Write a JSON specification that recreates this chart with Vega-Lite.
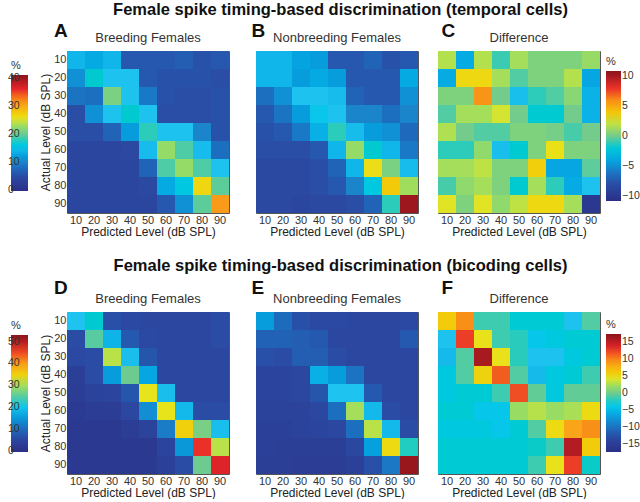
{
"$schema":"https://vega.github.io/schema/vega-lite/v6.json",
"padding":{"left":11,"top":2,"right":0,"bottom":0},
"config":{
 "font":"Liberation Sans",
 "view":{"stroke":"#555","strokeWidth":1},
 "axis":{"labelFont":"Liberation Sans","labelFontSize":11,"labelColor":"#333","titleFont":"Liberation Sans","titleFontSize":12,"titleFontWeight":"normal","titleColor":"#222","ticks":false,"domain":false,"labelPadding":1,"titlePadding":1,"labelAngle":0},
 "title":{"font":"Liberation Sans"},
 "legend":{"labelFont":"Liberation Sans","titleFont":"Liberation Sans","labelFontSize":10.5,"labelColor":"#333","titleFontSize":11,"titleFontWeight":"normal","titleColor":"#333","padding":0,"gradientStrokeWidth":0,"labelExpr":"replace(datum.label,'\u2212','-')"}
},
"datasets":{
"A":[
{"a":10,"p":10,"v":14},{"a":10,"p":20,"v":13},{"a":10,"p":30,"v":14},{"a":10,"p":40,"v":6},{"a":10,"p":50,"v":6},{"a":10,"p":60,"v":6},{"a":10,"p":70,"v":6.5},{"a":10,"p":80,"v":5.5},{"a":10,"p":90,"v":6},
{"a":20,"p":10,"v":11},{"a":20,"p":20,"v":17},{"a":20,"p":30,"v":15},{"a":20,"p":40,"v":15},{"a":20,"p":50,"v":6},{"a":20,"p":60,"v":5.5},{"a":20,"p":70,"v":5.5},{"a":20,"p":80,"v":5.5},{"a":20,"p":90,"v":5},
{"a":30,"p":10,"v":8.5},{"a":30,"p":20,"v":8},{"a":30,"p":30,"v":21},{"a":30,"p":40,"v":15},{"a":30,"p":50,"v":9},{"a":30,"p":60,"v":5.5},{"a":30,"p":70,"v":5},{"a":30,"p":80,"v":5},{"a":30,"p":90,"v":5.5},
{"a":40,"p":10,"v":5},{"a":40,"p":20,"v":11},{"a":40,"p":30,"v":15},{"a":40,"p":40,"v":17},{"a":40,"p":50,"v":15},{"a":40,"p":60,"v":5},{"a":40,"p":70,"v":5},{"a":40,"p":80,"v":5},{"a":40,"p":90,"v":5.5},
{"a":50,"p":10,"v":5},{"a":50,"p":20,"v":5},{"a":50,"p":30,"v":7},{"a":50,"p":40,"v":12},{"a":50,"p":50,"v":18},{"a":50,"p":60,"v":15},{"a":50,"p":70,"v":15},{"a":50,"p":80,"v":10},{"a":50,"p":90,"v":5.5},
{"a":60,"p":10,"v":4},{"a":60,"p":20,"v":4},{"a":60,"p":30,"v":4},{"a":60,"p":40,"v":4.5},{"a":60,"p":50,"v":14.5},{"a":60,"p":60,"v":22.5},{"a":60,"p":70,"v":19},{"a":60,"p":80,"v":14.5},{"a":60,"p":90,"v":8},
{"a":70,"p":10,"v":4},{"a":70,"p":20,"v":4},{"a":70,"p":30,"v":4},{"a":70,"p":40,"v":4},{"a":70,"p":50,"v":7},{"a":70,"p":60,"v":19},{"a":70,"p":70,"v":22.5},{"a":70,"p":80,"v":19},{"a":70,"p":90,"v":15},
{"a":80,"p":10,"v":4},{"a":80,"p":20,"v":4},{"a":80,"p":30,"v":4},{"a":80,"p":40,"v":4},{"a":80,"p":50,"v":4.5},{"a":80,"p":60,"v":13},{"a":80,"p":70,"v":16},{"a":80,"p":80,"v":26.5},{"a":80,"p":90,"v":19.5},
{"a":90,"p":10,"v":4},{"a":90,"p":20,"v":4},{"a":90,"p":30,"v":4},{"a":90,"p":40,"v":4},{"a":90,"p":50,"v":4},{"a":90,"p":60,"v":6},{"a":90,"p":70,"v":11},{"a":90,"p":80,"v":19.5},{"a":90,"p":90,"v":31}
],
"B":[
{"a":10,"p":10,"v":14},{"a":10,"p":20,"v":14},{"a":10,"p":30,"v":12.5},{"a":10,"p":40,"v":12},{"a":10,"p":50,"v":6},{"a":10,"p":60,"v":6},{"a":10,"p":70,"v":7},{"a":10,"p":80,"v":5.5},{"a":10,"p":90,"v":6},
{"a":20,"p":10,"v":14},{"a":20,"p":20,"v":14},{"a":20,"p":30,"v":12},{"a":20,"p":40,"v":13},{"a":20,"p":50,"v":12},{"a":20,"p":60,"v":6},{"a":20,"p":70,"v":6},{"a":20,"p":80,"v":6},{"a":20,"p":90,"v":13},
{"a":30,"p":10,"v":8},{"a":30,"p":20,"v":11},{"a":30,"p":30,"v":15},{"a":30,"p":40,"v":15},{"a":30,"p":50,"v":14.5},{"a":30,"p":60,"v":7},{"a":30,"p":70,"v":6},{"a":30,"p":80,"v":6},{"a":30,"p":90,"v":11},
{"a":40,"p":10,"v":6},{"a":40,"p":20,"v":8.5},{"a":40,"p":30,"v":12},{"a":40,"p":40,"v":15.5},{"a":40,"p":50,"v":15},{"a":40,"p":60,"v":10},{"a":40,"p":70,"v":10},{"a":40,"p":80,"v":8},{"a":40,"p":90,"v":10},
{"a":50,"p":10,"v":5.5},{"a":50,"p":20,"v":6},{"a":50,"p":30,"v":9},{"a":50,"p":40,"v":13.5},{"a":50,"p":50,"v":18},{"a":50,"p":60,"v":14.5},{"a":50,"p":70,"v":12},{"a":50,"p":80,"v":11},{"a":50,"p":90,"v":7.5},
{"a":60,"p":10,"v":5},{"a":60,"p":20,"v":5},{"a":60,"p":30,"v":5},{"a":60,"p":40,"v":6},{"a":60,"p":50,"v":14},{"a":60,"p":60,"v":22.5},{"a":60,"p":70,"v":17},{"a":60,"p":80,"v":14},{"a":60,"p":90,"v":9},
{"a":70,"p":10,"v":4.5},{"a":70,"p":20,"v":4.5},{"a":70,"p":30,"v":4.5},{"a":70,"p":40,"v":5},{"a":70,"p":50,"v":7},{"a":70,"p":60,"v":14},{"a":70,"p":70,"v":26},{"a":70,"p":80,"v":21},{"a":70,"p":90,"v":14.5},
{"a":80,"p":10,"v":4.5},{"a":80,"p":20,"v":4.5},{"a":80,"p":30,"v":4.5},{"a":80,"p":40,"v":5},{"a":80,"p":50,"v":6},{"a":80,"p":60,"v":10},{"a":80,"p":70,"v":16},{"a":80,"p":80,"v":27.5},{"a":80,"p":90,"v":23},
{"a":90,"p":10,"v":4.5},{"a":90,"p":20,"v":4.5},{"a":90,"p":30,"v":4},{"a":90,"p":40,"v":4.5},{"a":90,"p":50,"v":4.5},{"a":90,"p":60,"v":5},{"a":90,"p":70,"v":7},{"a":90,"p":80,"v":18},{"a":90,"p":90,"v":40}
],
"C":[
{"a":10,"p":10,"v":1.8},{"a":10,"p":20,"v":-3.8},{"a":10,"p":30,"v":1.8},{"a":10,"p":40,"v":-1},{"a":10,"p":50,"v":1.5},{"a":10,"p":60,"v":0.5},{"a":10,"p":70,"v":0.5},{"a":10,"p":80,"v":0.5},{"a":10,"p":90,"v":1.2},
{"a":20,"p":10,"v":-3.8},{"a":20,"p":20,"v":3.2},{"a":20,"p":30,"v":3.2},{"a":20,"p":40,"v":1.5},{"a":20,"p":50,"v":-0.6},{"a":20,"p":60,"v":0.5},{"a":20,"p":70,"v":0.5},{"a":20,"p":80,"v":1.8},{"a":20,"p":90,"v":-4},
{"a":30,"p":10,"v":0.5},{"a":30,"p":20,"v":0.5},{"a":30,"p":30,"v":5.8},{"a":30,"p":40,"v":0},{"a":30,"p":50,"v":-3},{"a":30,"p":60,"v":-1.2},{"a":30,"p":70,"v":-0.6},{"a":30,"p":80,"v":0.8},{"a":30,"p":90,"v":-3.5},
{"a":40,"p":10,"v":-0.6},{"a":40,"p":20,"v":1.5},{"a":40,"p":30,"v":1.5},{"a":40,"p":40,"v":2.4},{"a":40,"p":50,"v":0},{"a":40,"p":60,"v":-1.8},{"a":40,"p":70,"v":-1.8},{"a":40,"p":80,"v":0},{"a":40,"p":90,"v":-3.5},
{"a":50,"p":10,"v":1.7},{"a":50,"p":20,"v":0},{"a":50,"p":30,"v":-0.6},{"a":50,"p":40,"v":-0.6},{"a":50,"p":50,"v":0.5},{"a":50,"p":60,"v":0.5},{"a":50,"p":70,"v":0.2},{"a":50,"p":80,"v":-0.8},{"a":50,"p":90,"v":0},
{"a":60,"p":10,"v":-1.2},{"a":60,"p":20,"v":-1.2},{"a":60,"p":30,"v":1},{"a":60,"p":40,"v":-3},{"a":60,"p":50,"v":-1.8},{"a":60,"p":60,"v":0.5},{"a":60,"p":70,"v":2.9},{"a":60,"p":80,"v":0.5},{"a":60,"p":90,"v":0.5},
{"a":70,"p":10,"v":1.5},{"a":70,"p":20,"v":1.5},{"a":70,"p":30,"v":2},{"a":70,"p":40,"v":0.5},{"a":70,"p":50,"v":0.5},{"a":70,"p":60,"v":3.6},{"a":70,"p":70,"v":-4},{"a":70,"p":80,"v":-4},{"a":70,"p":90,"v":-0.4},
{"a":80,"p":10,"v":-0.8},{"a":80,"p":20,"v":1},{"a":80,"p":30,"v":1.5},{"a":80,"p":40,"v":0.5},{"a":80,"p":50,"v":-1.8},{"a":80,"p":60,"v":1.5},{"a":80,"p":70,"v":-1.2},{"a":80,"p":80,"v":-3.8},{"a":80,"p":90,"v":-2.8},
{"a":90,"p":10,"v":2.6},{"a":90,"p":20,"v":0.5},{"a":90,"p":30,"v":2.6},{"a":90,"p":40,"v":1},{"a":90,"p":50,"v":2},{"a":90,"p":60,"v":3.2},{"a":90,"p":70,"v":3.2},{"a":90,"p":80,"v":1.5},{"a":90,"p":90,"v":-10}
],
"D":[
{"a":10,"p":10,"v":19.5},{"a":10,"p":20,"v":22},{"a":10,"p":30,"v":7},{"a":10,"p":40,"v":6},{"a":10,"p":50,"v":5.5},{"a":10,"p":60,"v":5.5},{"a":10,"p":70,"v":5.5},{"a":10,"p":80,"v":5.5},{"a":10,"p":90,"v":6.5},
{"a":20,"p":10,"v":6.5},{"a":20,"p":20,"v":25},{"a":20,"p":30,"v":18},{"a":20,"p":40,"v":8},{"a":20,"p":50,"v":6},{"a":20,"p":60,"v":5.5},{"a":20,"p":70,"v":5.5},{"a":20,"p":80,"v":5.5},{"a":20,"p":90,"v":6.5},
{"a":30,"p":10,"v":6},{"a":30,"p":20,"v":6.5},{"a":30,"p":30,"v":31},{"a":30,"p":40,"v":19},{"a":30,"p":50,"v":7.5},{"a":30,"p":60,"v":5.5},{"a":30,"p":70,"v":5.5},{"a":30,"p":80,"v":5.5},{"a":30,"p":90,"v":5.5},
{"a":40,"p":10,"v":3.5},{"a":40,"p":20,"v":6.5},{"a":40,"p":30,"v":15.5},{"a":40,"p":40,"v":26},{"a":40,"p":50,"v":16.5},{"a":40,"p":60,"v":5.5},{"a":40,"p":70,"v":5.5},{"a":40,"p":80,"v":5.5},{"a":40,"p":90,"v":5.5},
{"a":50,"p":10,"v":3},{"a":50,"p":20,"v":4.5},{"a":50,"p":30,"v":5},{"a":50,"p":40,"v":7.5},{"a":50,"p":50,"v":33},{"a":50,"p":60,"v":19},{"a":50,"p":70,"v":5.5},{"a":50,"p":80,"v":5.5},{"a":50,"p":90,"v":5.5},
{"a":60,"p":10,"v":2.5},{"a":60,"p":20,"v":3},{"a":60,"p":30,"v":3},{"a":60,"p":40,"v":5.5},{"a":60,"p":50,"v":14},{"a":60,"p":60,"v":33},{"a":60,"p":70,"v":18.5},{"a":60,"p":80,"v":6.5},{"a":60,"p":90,"v":6.5},
{"a":70,"p":10,"v":2},{"a":70,"p":20,"v":2},{"a":70,"p":30,"v":2},{"a":70,"p":40,"v":3},{"a":70,"p":50,"v":4.5},{"a":70,"p":60,"v":12},{"a":70,"p":70,"v":35},{"a":70,"p":80,"v":27},{"a":70,"p":90,"v":19},
{"a":80,"p":10,"v":2},{"a":80,"p":20,"v":2},{"a":80,"p":30,"v":2},{"a":80,"p":40,"v":2},{"a":80,"p":50,"v":2},{"a":80,"p":60,"v":5},{"a":80,"p":70,"v":15},{"a":80,"p":80,"v":46},{"a":80,"p":90,"v":31},
{"a":90,"p":10,"v":2},{"a":90,"p":20,"v":2},{"a":90,"p":30,"v":2},{"a":90,"p":40,"v":2},{"a":90,"p":50,"v":2},{"a":90,"p":60,"v":4},{"a":90,"p":70,"v":6.5},{"a":90,"p":80,"v":26},{"a":90,"p":90,"v":47}
],
"E":[
{"a":10,"p":10,"v":15.5},{"a":10,"p":20,"v":10},{"a":10,"p":30,"v":7},{"a":10,"p":40,"v":6},{"a":10,"p":50,"v":6},{"a":10,"p":60,"v":5.5},{"a":10,"p":70,"v":5.5},{"a":10,"p":80,"v":5.5},{"a":10,"p":90,"v":6},
{"a":20,"p":10,"v":9},{"a":20,"p":20,"v":9},{"a":20,"p":30,"v":8.5},{"a":20,"p":40,"v":8},{"a":20,"p":50,"v":5.5},{"a":20,"p":60,"v":5.5},{"a":20,"p":70,"v":5.5},{"a":20,"p":80,"v":5.5},{"a":20,"p":90,"v":8},
{"a":30,"p":10,"v":7},{"a":30,"p":20,"v":6.5},{"a":30,"p":30,"v":8.5},{"a":30,"p":40,"v":8.5},{"a":30,"p":50,"v":6.5},{"a":30,"p":60,"v":5.5},{"a":30,"p":70,"v":5.5},{"a":30,"p":80,"v":5.5},{"a":30,"p":90,"v":5.5},
{"a":40,"p":10,"v":5},{"a":40,"p":20,"v":5},{"a":40,"p":30,"v":5.5},{"a":40,"p":40,"v":17.5},{"a":40,"p":50,"v":15.5},{"a":40,"p":60,"v":11},{"a":40,"p":70,"v":5.5},{"a":40,"p":80,"v":5.5},{"a":40,"p":90,"v":5.5},
{"a":50,"p":10,"v":5},{"a":50,"p":20,"v":5},{"a":50,"p":30,"v":5.5},{"a":50,"p":40,"v":7.5},{"a":50,"p":50,"v":19.5},{"a":50,"p":60,"v":19.5},{"a":50,"p":70,"v":8},{"a":50,"p":80,"v":5.5},{"a":50,"p":90,"v":5.5},
{"a":60,"p":10,"v":4.5},{"a":60,"p":20,"v":4.5},{"a":60,"p":30,"v":4.5},{"a":60,"p":40,"v":5.5},{"a":60,"p":50,"v":10.5},{"a":60,"p":60,"v":30},{"a":60,"p":70,"v":18.5},{"a":60,"p":80,"v":6.5},{"a":60,"p":90,"v":5.5},
{"a":70,"p":10,"v":4},{"a":70,"p":20,"v":4},{"a":70,"p":30,"v":4.5},{"a":70,"p":40,"v":5},{"a":70,"p":50,"v":5.5},{"a":70,"p":60,"v":10.5},{"a":70,"p":70,"v":31},{"a":70,"p":80,"v":18.5},{"a":70,"p":90,"v":6.5},
{"a":80,"p":10,"v":4},{"a":80,"p":20,"v":3.5},{"a":80,"p":30,"v":3.5},{"a":80,"p":40,"v":3.5},{"a":80,"p":50,"v":3.5},{"a":80,"p":60,"v":5.5},{"a":80,"p":70,"v":16},{"a":80,"p":80,"v":34},{"a":80,"p":90,"v":23},
{"a":90,"p":10,"v":3.5},{"a":90,"p":20,"v":3.5},{"a":90,"p":30,"v":3},{"a":90,"p":40,"v":3},{"a":90,"p":50,"v":3},{"a":90,"p":60,"v":4},{"a":90,"p":70,"v":7},{"a":90,"p":80,"v":11.5},{"a":90,"p":90,"v":52}
],
"F":[
{"a":10,"p":10,"v":6},{"a":10,"p":20,"v":9.5},{"a":10,"p":30,"v":-1.5},{"a":10,"p":40,"v":-1.5},{"a":10,"p":50,"v":-3},{"a":10,"p":60,"v":-3},{"a":10,"p":70,"v":-3},{"a":10,"p":80,"v":-4.5},{"a":10,"p":90,"v":-1},
{"a":20,"p":10,"v":-4.5},{"a":20,"p":20,"v":12.5},{"a":20,"p":30,"v":4.5},{"a":20,"p":40,"v":-1.5},{"a":20,"p":50,"v":-2},{"a":20,"p":60,"v":-4},{"a":20,"p":70,"v":-3.5},{"a":20,"p":80,"v":-3},{"a":20,"p":90,"v":-3},
{"a":30,"p":10,"v":-5},{"a":30,"p":20,"v":-1},{"a":30,"p":30,"v":16},{"a":30,"p":40,"v":4.5},{"a":30,"p":50,"v":-2},{"a":30,"p":60,"v":-4.5},{"a":30,"p":70,"v":-4.5},{"a":30,"p":80,"v":-3.5},{"a":30,"p":90,"v":-3},
{"a":40,"p":10,"v":-3.5},{"a":40,"p":20,"v":-1},{"a":40,"p":30,"v":5.5},{"a":40,"p":40,"v":11.5},{"a":40,"p":50,"v":-1},{"a":40,"p":60,"v":-5},{"a":40,"p":70,"v":-3.5},{"a":40,"p":80,"v":-3},{"a":40,"p":90,"v":-1.5},
{"a":50,"p":10,"v":-3.5},{"a":50,"p":20,"v":-3},{"a":50,"p":30,"v":-3},{"a":50,"p":40,"v":-1.5},{"a":50,"p":50,"v":12},{"a":50,"p":60,"v":-0.5},{"a":50,"p":70,"v":-3.5},{"a":50,"p":80,"v":-0.5},{"a":50,"p":90,"v":-0.5},
{"a":60,"p":10,"v":-3},{"a":60,"p":20,"v":-3},{"a":60,"p":30,"v":-4},{"a":60,"p":40,"v":-4},{"a":60,"p":50,"v":2},{"a":60,"p":60,"v":3},{"a":60,"p":70,"v":2},{"a":60,"p":80,"v":2.5},{"a":60,"p":90,"v":5},
{"a":70,"p":10,"v":-3.5},{"a":70,"p":20,"v":-3.5},{"a":70,"p":30,"v":-3.5},{"a":70,"p":40,"v":-4},{"a":70,"p":50,"v":-3},{"a":70,"p":60,"v":-1},{"a":70,"p":70,"v":5},{"a":70,"p":80,"v":8.5},{"a":70,"p":90,"v":9.5},
{"a":80,"p":10,"v":-3},{"a":80,"p":20,"v":-3},{"a":80,"p":30,"v":-3},{"a":80,"p":40,"v":-3},{"a":80,"p":50,"v":-3},{"a":80,"p":60,"v":-2.5},{"a":80,"p":70,"v":-1.5},{"a":80,"p":80,"v":15.5},{"a":80,"p":90,"v":6},
{"a":90,"p":10,"v":-3},{"a":90,"p":20,"v":-3},{"a":90,"p":30,"v":-3},{"a":90,"p":40,"v":-3},{"a":90,"p":50,"v":-3},{"a":90,"p":60,"v":-1.5},{"a":90,"p":70,"v":4.5},{"a":90,"p":80,"v":12.5},{"a":90,"p":90,"v":-2.5}
]
},
"resolve":{"scale":{"color":"independent"},"legend":{"color":"independent"}},
"spacing":20,
"vconcat":[
{
 "title":{"text":"Female spike timing-based discrimination (temporal cells)","anchor":"middle","fontSize":16.5,"fontWeight":"bold","color":"#111","offset":3,"dx":15},
 "resolve":{"scale":{"color":"independent"},"legend":{"color":"independent"}},
 "spacing":21,
 "hconcat":[
  {"title":{"text":"A","anchor":"start","fontSize":19,"fontWeight":"bold","color":"#111","dx":43,"dy":9,"offset":0},
   "hconcat":[{
    "width":162,"height":162,
    "title":{"text":"Breeding Females","fontSize":13,"fontWeight":"normal","color":"#333","offset":6},
    "data":{"name":"A"},"mark":"rect",
    "encoding":{
     "x":{"field":"p","type":"ordinal","title":"Predicted Level (dB SPL)","scale":{"paddingInner":0,"paddingOuter":0}},
     "y":{"field":"a","type":"ordinal","title":"Actual Level (dB SPL)","scale":{"paddingInner":0,"paddingOuter":0}},
     "color":{"field":"v","type":"quantitative","scale":{"domain":[-0.4,41],"range":["#2b2f86","#2b4aa3","#1b84cc","#20c4ef","#73cb8c","#e8e41c","#f9a11b","#e8262a","#8a151b"]},
      "legend":{"orient":"none","legendX":-56,"legendY":9,"direction":"vertical","gradientLength":116,"gradientThickness":17,"title":"%","titlePadding":4,"labelAlign":"right","labelOffset":-20,"values":[0,10,20,30,40]}}
    }
   }]},
  {"resolve":{"scale":{"color":"independent"},"legend":{"color":"independent"}},
   "spacing":18,
   "hconcat":[
   {"title":{"text":"B","anchor":"start","fontSize":19,"fontWeight":"bold","color":"#111","dx":-4,"dy":9,"offset":0},
    "hconcat":[{
     "width":162,"height":162,
     "title":{"text":"Nonbreeding Females","fontSize":13,"fontWeight":"normal","color":"#333","offset":6},
     "data":{"name":"B"},"mark":"rect",
     "encoding":{
      "x":{"field":"p","type":"ordinal","title":"Predicted Level (dB SPL)","scale":{"paddingInner":0,"paddingOuter":0}},
      "y":{"field":"a","type":"ordinal","axis":null,"scale":{"paddingInner":0,"paddingOuter":0}},
      "color":{"field":"v","type":"quantitative","scale":{"domain":[-0.4,41],"range":["#2b2f86","#2b4aa3","#1b84cc","#20c4ef","#73cb8c","#e8e41c","#f9a11b","#e8262a","#8a151b"]},"legend":null}
     }
    }]},
   {"title":{"text":"C","anchor":"start","fontSize":19,"fontWeight":"bold","color":"#111","dx":4,"dy":9,"offset":0},
    "hconcat":[{
     "width":162,"height":162,
     "title":{"text":"Difference","fontSize":13,"fontWeight":"normal","color":"#333","offset":6},
     "data":{"name":"C"},"mark":"rect",
     "encoding":{
      "x":{"field":"p","type":"ordinal","title":"Predicted Level (dB SPL)","scale":{"paddingInner":0,"paddingOuter":0}},
      "y":{"field":"a","type":"ordinal","axis":null,"scale":{"paddingInner":0,"paddingOuter":0}},
      "color":{"field":"v","type":"quantitative","scale":{"domain":[-10.9,10.9],"range":["#2b2f86","#2b4aa3","#1b84cc","#20c4ef","#73cb8c","#e8e41c","#f9a11b","#e8262a","#8a151b"]},
       "legend":{"orient":"none","legendX":168,"legendY":5,"direction":"vertical","gradientLength":130,"gradientThickness":15,"title":"%","titlePadding":4,"labelOffset":1,"values":[-10,-5,0,5,10]}}
     }
    }]}
   ]}
 ]
},
{
 "title":{"text":"Female spike timing-based discrimination (bicoding cells)","anchor":"middle","fontSize":16.5,"fontWeight":"bold","color":"#111","offset":4,"dx":15},
 "resolve":{"scale":{"color":"independent"},"legend":{"color":"independent"}},
 "spacing":21,
 "hconcat":[
  {"title":{"text":"D","anchor":"start","fontSize":19,"fontWeight":"bold","color":"#111","dx":43,"dy":5,"offset":0},
   "hconcat":[{
    "width":162,"height":162,
    "title":{"text":"Breeding Females","fontSize":13,"fontWeight":"normal","color":"#333","offset":6},
    "data":{"name":"D"},"mark":"rect",
    "encoding":{
     "x":{"field":"p","type":"ordinal","title":"Predicted Level (dB SPL)","scale":{"paddingInner":0,"paddingOuter":0}},
     "y":{"field":"a","type":"ordinal","title":"Actual Level (dB SPL)","scale":{"paddingInner":0,"paddingOuter":0}},
     "color":{"field":"v","type":"quantitative","scale":{"domain":[-0.4,53],"range":["#2b2f86","#2b4aa3","#1b84cc","#20c4ef","#73cb8c","#e8e41c","#f9a11b","#e8262a","#8a151b"]},
      "legend":{"orient":"none","legendX":-56,"legendY":8,"direction":"vertical","gradientLength":117,"gradientThickness":17,"title":"%","titlePadding":4,"labelAlign":"right","labelOffset":-20,"values":[0,10,20,30,40,50]}}
    }
   }]},
  {"resolve":{"scale":{"color":"independent"},"legend":{"color":"independent"}},
   "spacing":18,
   "hconcat":[
   {"title":{"text":"E","anchor":"start","fontSize":19,"fontWeight":"bold","color":"#111","dx":-4,"dy":5,"offset":0},
    "hconcat":[{
     "width":162,"height":162,
     "title":{"text":"Nonbreeding Females","fontSize":13,"fontWeight":"normal","color":"#333","offset":6},
     "data":{"name":"E"},"mark":"rect",
     "encoding":{
      "x":{"field":"p","type":"ordinal","title":"Predicted Level (dB SPL)","scale":{"paddingInner":0,"paddingOuter":0}},
      "y":{"field":"a","type":"ordinal","axis":null,"scale":{"paddingInner":0,"paddingOuter":0}},
      "color":{"field":"v","type":"quantitative","scale":{"domain":[-0.4,53],"range":["#2b2f86","#2b4aa3","#1b84cc","#20c4ef","#73cb8c","#e8e41c","#f9a11b","#e8262a","#8a151b"]},"legend":null}
     }
    }]},
   {"title":{"text":"F","anchor":"start","fontSize":19,"fontWeight":"bold","color":"#111","dx":4,"dy":5,"offset":0},
    "hconcat":[{
     "width":162,"height":162,
     "title":{"text":"Difference","fontSize":13,"fontWeight":"normal","color":"#333","offset":6},
     "data":{"name":"F"},"mark":"rect",
     "encoding":{
      "x":{"field":"p","type":"ordinal","title":"Predicted Level (dB SPL)","scale":{"paddingInner":0,"paddingOuter":0}},
      "y":{"field":"a","type":"ordinal","axis":null,"scale":{"paddingInner":0,"paddingOuter":0}},
      "color":{"field":"v","type":"quantitative","scale":{"domain":[-17.4,17.4],"range":["#2b2f86","#2b4aa3","#1b84cc","#20c4ef","#73cb8c","#e8e41c","#f9a11b","#e8262a","#8a151b"]},
       "legend":{"orient":"none","legendX":168,"legendY":7,"direction":"vertical","gradientLength":118,"gradientThickness":15,"title":"%","titlePadding":4,"labelOffset":1,"values":[-15,-10,-5,0,5,10,15]}}
     }
    }]}
   ]}
 ]
}
]
}
